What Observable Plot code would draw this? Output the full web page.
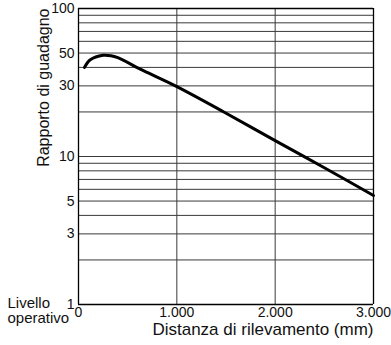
<!DOCTYPE html>
<html>
<head>
<meta charset="utf-8">
<script src="https://cdn.jsdelivr.net/npm/d3@7"></script>
<script src="https://cdn.jsdelivr.net/npm/@observablehq/plot@0.6"></script>
<style>
  html, body { margin: 0; padding: 0; background: #fff; }
  svg { font-family: "Liberation Sans", Arial, sans-serif; }
</style>
</head>
<body>
<div id="chart"></div>
<script>
// Curve: detection distance (mm) vs gain ratio
const distance = [61, 120, 250, 330, 400, 660, 985, 1478, 2000, 2500, 3000];
const gain     = [40, 45, 48.3, 48, 46.5, 38, 30, 20, 12.8, 8.4, 5.45];

const yGrid = [1, 2, 3, 4, 5, 6, 7, 8, 9, 10, 20, 30, 40, 50, 60, 70, 80, 90, 100];
const xGrid = [1000, 2000];
const yTicks = [1, 3, 5, 7, 10, 30, 50, 70, 100];
const xTicks = [0, 1000, 2000, 3000];
const xTickLabels = ["0", "1.000", "2.000", "3.000"];

const yTitle = "Rapporto di guadagno";
const xTitle = "Distanza di rilevamento (mm)";
const cornerLabel = "Livello\noperativo";

const data = distance.map((d, i) => ({x: d, y: gain[i]}));

const chart = Plot.plot({
  width: 391,
  height: 345,
  marginLeft: 78,
  marginRight: 18,
  marginTop: 8,
  marginBottom: 41,
  style: {fontSize: "14px", fontFamily: "Liberation Sans, Arial, sans-serif", background: "#fff", color: "#111"},
  x: {domain: [0, 3000], ticks: xTicks, tickFormat: d => xTickLabels[xTicks.indexOf(d)], tickSize: 0, tickPadding: 3, label: null},
  y: {type: "log", domain: [1, 100], ticks: yTicks, tickFormat: d => String(d), tickSize: 0, tickPadding: 4, label: null},
  marks: [
    Plot.ruleY(yGrid, {stroke: "#3a3a3a", strokeWidth: 1}),
    Plot.ruleX(xGrid, {stroke: "#3a3a3a", strokeWidth: 1}),
    Plot.ruleX([0, 3000], {stroke: "#000", strokeWidth: 1.3}),
    Plot.ruleY([1, 100], {stroke: "#000", strokeWidth: 1.3}),
    Plot.line(data, {x: "x", y: "y", curve: "catmull-rom", stroke: "#000", strokeWidth: 3}),
    Plot.text([yTitle], {frameAnchor: "top-left", dx: -41, dy: 0, rotate: -90, textAnchor: "end", fontSize: 16, fill: "#111"}),
    Plot.text([xTitle], {frameAnchor: "bottom-right", dx: 0, dy: 30, textAnchor: "end", fontSize: 17, fill: "#111"}),
    Plot.text([cornerLabel], {frameAnchor: "bottom-left", dx: -71, dy: 6, textAnchor: "start", lineAnchor: "middle", lineHeight: 1.02, fontSize: 15, fill: "#111"})
  ]
});
document.getElementById("chart").appendChild(chart);
</script>
</body>
</html>
